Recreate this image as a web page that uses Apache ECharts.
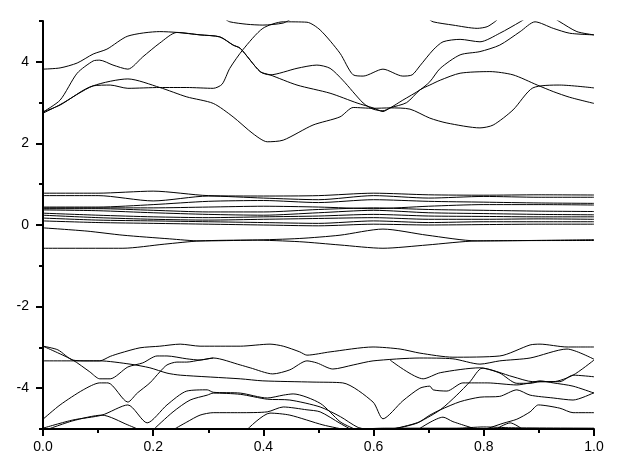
<!DOCTYPE html>
<html>
<head>
<meta charset="utf-8">
<script src="https://cdn.jsdelivr.net/npm/echarts@6/dist/echarts.min.js"></script>
<style>
html,body{margin:0;padding:0;background:#fff;}
#main{width:617px;height:468px;}
</style>
</head>
<body>
<div id="main"></div>
<script>
// band energies, each band is a list of [k, E]
var upA = [[0,3.82],[.031,3.85],[.062,3.97],[.091,4.19],[.116,4.31],[.154,4.63],[.212,4.74],[.243,4.72],[.285,4.66],[.321,4.61],[.345,4.41],[.358,4.33],[.394,3.76],[.412,3.68],[.461,3.84],[.497,3.92],[.521,3.84],[.544,3.55],[.581,2.99],[.599,2.84],[.617,2.8],[.63,2.87],[.653,3.06],[.684,3.31],[.702,3.51],[.721,3.84],[.757,4.17],[.793,4.25],[.829,4.41],[.866,4.74],[.893,4.98],[.926,4.82],[.956,4.7],[1,4.66]];
var upB = [[0,2.77],[.031,3.06],[.062,3.72],[.091,4.02],[.103,4.04],[.127,3.92],[.154,3.82],[.181,4.12],[.212,4.46],[.243,4.72],[.285,4.66],[.321,4.61],[.345,4.41],[.358,4.33],[.394,3.76],[.412,3.68],[.461,3.43],[.521,3.23],[.57,2.99],[.599,2.87],[.617,2.78],[.63,2.87],[.66,3.0],[.684,3.31],[.702,3.43],[.721,3.55],[.757,3.72],[.811,3.76],[.853,3.68],[.897,3.43],[.926,3.27],[.956,3.13],[1,2.98]];
var upC = [[0,2.77],[.031,2.94],[.091,3.41],[.122,3.43],[.154,3.35],[.212,3.37],[.261,3.37],[.309,3.35],[.325,3.45],[.339,3.84],[.363,4.3],[.399,4.82],[.436,4.98],[.479,4.97],[.503,4.78],[.539,4.21],[.563,3.68],[.581,3.65],[.617,3.82],[.653,3.65],[.67,3.68],[.684,3.9],[.708,4.29],[.726,4.49],[.757,4.55],[.793,4.49],[.829,4.7],[.866,4.98],[.88,5.1]];
var upD = [[0,2.74],[.031,2.95],[.091,3.41],[.154,3.58],[.212,3.37],[.261,3.14],[.309,2.98],[.345,2.65],[.381,2.24],[.407,2.04],[.436,2.08],[.49,2.45],[.539,2.65],[.563,2.88],[.599,2.86],[.63,2.87],[.666,2.84],[.702,2.62],[.733,2.5],[.793,2.38],[.817,2.45],[.853,2.82],[.889,3.36],[.938,3.43],[1,3.36]];
var topF1 = [[.33,5.05],[.339,4.98],[.37,4.92],[.399,4.9],[.436,4.95],[.45,5.05]];
var topF2 = [[.70,5.05],[.708,4.98],[.744,4.9],[.788,4.82],[.806,4.86],[.82,4.98],[.826,5.05]];
var topF3 = [[.93,5.05],[.938,4.98],[.969,4.74],[1,4.66]];

var kMid = [0,.1,.2,.3,.4,.5,.6,.7,.8,.9,1];
var midA = [.78,.78,.83,.72,.71,.72,.78,.74,.73,.74,.735];
var midB = [.72,.72,.59,.71,.66,.62,.72,.66,.70,.68,.68];
var midC = [.44,.44,.5,.58,.6,.55,.62,.58,.56,.54,.53];
var midD = [.42,.42,.42,.44,.46,.44,.40,.46,.50,.50,.49];
var midE = [.40,.40,.36,.32,.32,.38,.42,.38,.36,.34,.33];
var midF = [.37,.35,.30,.26,.24,.30,.36,.30,.28,.26,.25];
var midG = [.29,.24,.2,.18,.2,.22,.26,.22,.21,.2,.2];
var midH = [.24,.18,.14,.12,.14,.16,.18,.14,.14,.15,.14];
var midI = [.17,.12,.10,.08,.06,.04,.10,.06,.08,.08,.08];
var midJ = [.10,.06,.04,.02,.0,-0.02,.02,.0,.01,.02,.02];
var lowM1 = [[0,-0.57],[.145,-0.57],[.22,-0.47],[.285,-0.39],[.38,-0.37],[.466,-0.41],[.539,-0.49],[.617,-0.57],[.697,-0.49],[.788,-0.39],[1,-0.38]];
var lowM2 = [[0,-0.07],[.08,-0.15],[.145,-0.25],[.23,-0.34],[.285,-0.39],[.38,-0.37],[.466,-0.33],[.539,-0.25],[.617,-0.1],[.697,-0.25],[.788,-0.39],[1,-0.36]];

var vbQ1 = [[0,-2.97],[.027,-3.06],[.054,-3.31],[.08,-3.33],[.103,-3.33],[.122,-3.22],[.14,-3.14],[.176,-3.01],[.212,-2.97],[.249,-2.92],[.285,-2.97],[.358,-2.97],[.412,-2.92],[.436,-2.97],[.466,-3.11],[.479,-3.19],[.521,-3.11],[.599,-2.99],[.648,-3.04],[.684,-3.14],[.744,-3.24],[.829,-3.21],[.884,-2.94],[.902,-2.92],[.951,-2.99],[1,-2.99]];
var vbQ2 = [[0,-3.33],[.103,-3.33],[.158,-3.41],[.194,-3.5],[.225,-3.63],[.249,-3.68],[.358,-3.77],[.399,-3.82],[.49,-3.85],[.544,-3.87],[.599,-4.34],[.617,-4.75],[.653,-4.31],[.684,-4.0],[.702,-3.95],[.708,-4.04],[.733,-4.07],[.762,-3.87],[.806,-3.87],[.86,-3.92],[.884,-3.87],[.902,-3.82],[.926,-3.87],[.962,-3.95],[1,-4.12]];
var vbQ3 = [[0,-2.97],[.054,-3.31],[.085,-3.6],[.103,-3.77],[.122,-3.77],[.154,-3.48],[.181,-3.38],[.207,-3.21],[.225,-3.21],[.261,-3.28],[.285,-3.31],[.309,-3.26],[.358,-3.43],[.376,-3.5],[.417,-3.65],[.448,-3.55],[.479,-3.33],[.497,-3.38],[.526,-3.53],[.563,-3.43],[.599,-3.33],[.684,-3.26],[.744,-3.28],[.793,-3.41],[.829,-3.33],[.884,-3.26],[.951,-3.04],[1,-3.29]];
var vbQ4 = [[0,-4.76],[.031,-4.41],[.073,-4.04],[.103,-3.87],[.118,-3.87],[.154,-4.34],[.171,-4.12],[.194,-3.87],[.212,-3.6],[.225,-3.43],[.243,-3.36],[.261,-3.36],[.285,-3.31],[.309,-3.26]];
var vbQ5 = [[0,-4.98],[.054,-4.78],[.107,-4.66],[.154,-4.41],[.189,-4.85],[.225,-4.41],[.261,-4.07],[.298,-4.04],[.309,-4.1],[.358,-4.12],[.407,-4.24],[.436,-4.17],[.454,-4.14],[.503,-4.37],[.539,-4.82],[.557,-4.95],[.575,-5.05]];
var vbQ6 = [[.63,-3.31],[.69,-3.77],[.721,-3.62],[.793,-3.5],[.853,-3.72],[.889,-3.84],[.926,-3.84],[.962,-3.68],[1,-3.31]];
var vbQ7 = [[.236,-5.02],[.261,-4.83],[.285,-4.66],[.309,-4.6],[.358,-4.6],[.407,-4.58],[.436,-4.46],[.479,-4.53],[.503,-4.58],[.539,-4.86],[.56,-5.02]];
var vbQ8 = [[.37,-5.02],[.412,-4.61],[.448,-4.66],[.508,-4.9],[.55,-5.02]];
var vbQ11 = [[0,-5.05],[.054,-4.8],[.107,-4.66],[.154,-4.9],[.18,-5.05]];
var vbQ12 = [[.2,-5.02],[.236,-4.58],[.267,-4.29],[.298,-4.17],[.309,-4.12],[.358,-4.15],[.407,-4.27],[.448,-4.29],[.503,-4.46],[.54,-4.7],[.57,-4.95],[.59,-5.02]];
var vbQ13 = [[.63,-5.02],[.666,-4.9],[.684,-4.82],[.721,-4.53],[.751,-4.17],[.775,-3.84],[.797,-3.51],[.829,-3.63],[.86,-3.88],[.884,-3.88],[.902,-3.84],[.938,-3.84],[.962,-3.68],[1,-3.72]];
var vbQ14 = [[.6,-5.02],[.642,-4.98],[.68,-4.85],[.702,-4.66],[.721,-4.53],[.757,-4.33],[.793,-4.22],[.829,-4.2],[.86,-4.04],[.884,-4.17],[.926,-4.24],[.962,-4.29],[1,-4.11]];
var vbQ15 = [[.8,-5.02],[.835,-4.86],[.86,-4.76],[.884,-4.58],[.899,-4.41],[.938,-4.49],[.962,-4.6],[1,-4.6]];
var vbQ16 = [[.68,-5.02],[.726,-4.71],[.744,-4.82],[.79,-5.02]];
var vbQ17 = [[.82,-5.02],[.848,-4.85],[.872,-5.02]];
var vbQ18 = [[.55,-5.02],[.62,-4.98],[.75,-4.98],[.8,-4.95],[.85,-4.97],[1,-4.98]];

var yMajor = [-4,-2,0,2,4];
var yMinor = [-5,-3,-1,1,3,5];

var midBands = [midA,midB,midC,midD,midE,midF,midG,midH,midI,midJ].map(function(vals){
    return vals.map(function(v,i){ return [kMid[i], v]; });
});
var bands = [upA,upB,upC,upD,topF1,topF2,topF3,lowM1,lowM2,
    vbQ1,vbQ2,vbQ3,vbQ4,vbQ5,vbQ6,vbQ7,vbQ8,vbQ11,vbQ12,vbQ13,vbQ14,vbQ15,vbQ16,vbQ17,vbQ18].concat(midBands);

var series = [];
for (var i = 0; i < bands.length; i++) {
    series.push({
        type: 'line',
        data: bands[i],
        showSymbol: false,
        symbol: 'none',
        silent: true,
        clip: true,
        smooth: 0.25,
        lineStyle: {color: '#000', width: 1}
    });
}

var labelFont = {color: '#000', fontFamily: 'Liberation Sans', fontSize: 14};
var myChart = echarts.init(document.getElementById('main'));
var option = {
    animation: false,
    backgroundColor: '#fff',
    grid: {left: 43, right: 23, top: 21, bottom: 39},
    xAxis: {
        type: 'value', min: 0, max: 1, interval: 0.2,
        axisLine: {onZero: false, lineStyle: {color: '#000', width: 2}},
        axisTick: {length: 7, lineStyle: {color: '#000', width: 2}},
        minorTick: {show: true, splitNumber: 2, length: 4, lineStyle: {color: '#000', width: 2}},
        splitLine: {show: false},
        axisLabel: Object.assign({margin: 11, formatter: function(v){ return v.toFixed(1); }}, labelFont)
    },
    yAxis: [{
        type: 'value', min: -5, max: 5,
        axisLine: {lineStyle: {color: '#000', width: 2}},
        axisTick: {length: 7, customValues: yMajor, lineStyle: {color: '#000', width: 2}},
        splitLine: {show: false},
        axisLabel: Object.assign({margin: 14, customValues: yMajor}, labelFont)
    }, {
        type: 'value', min: -5, max: 5, position: 'left',
        axisLine: {show: false},
        axisTick: {length: 4, customValues: yMinor, lineStyle: {color: '#000', width: 2}},
        splitLine: {show: false},
        axisLabel: {show: false}
    }],
    series: series
};
if (option && typeof option == "object") {
    myChart.setOption(option, true);
}
</script>
</body>
</html>
